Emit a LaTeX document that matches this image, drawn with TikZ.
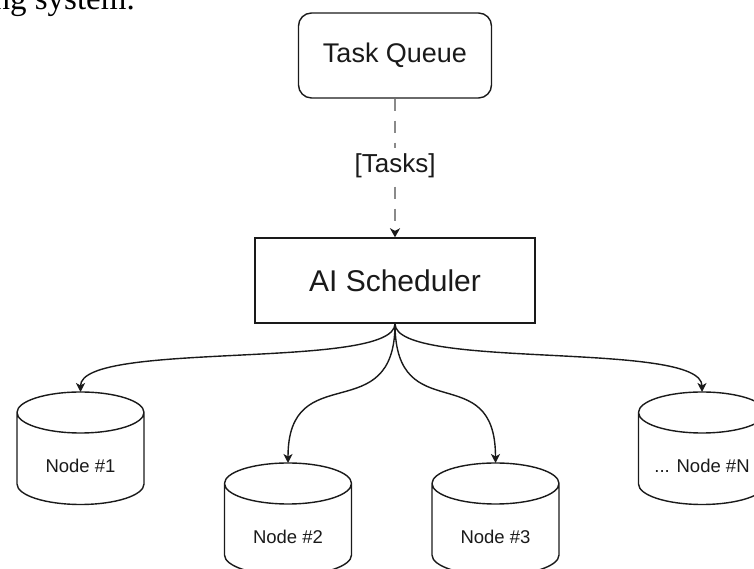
\documentclass[tikz,border=0pt]{standalone}
\usepackage{fontspec}
\setmainfont{Liberation Sans}
\newfontfamily\docserif{Liberation Serif}
\usetikzlibrary{arrows.meta}
\definecolor{dashgray}{HTML}{8A8A8A}
\definecolor{inkc}{HTML}{1A1A1A}
\tikzset{
  boxline/.style={draw=inkc, line width=1.4pt},
  tqbox/.style={boxline, rounded corners=13pt, minimum width=193pt, minimum height=85pt, font=\fontsize{27}{30}\selectfont, text=inkc},
  schedbox/.style={boxline, minimum width=280pt, minimum height=85pt, font=\fontsize{30}{33}\selectfont, text=inkc},
  flowdash/.style={draw=dashgray, line width=1.4pt, dash pattern=on 12pt off 10pt, -{Stealth[length=9pt,width=10pt,inset=2.5pt,color=inkc]}},
  tasklabel/.style={fill=white, font=\fontsize{26}{28}\selectfont, text=inkc, inner xsep=2pt, inner ysep=6pt},
  cylline/.style={draw=inkc, line width=1.4pt},
  dbtext/.style={font=\fontsize{18.5}{20}\selectfont, text=inkc, inner sep=0pt},
  feed/.style={draw=inkc, line width=1.4pt, -{Stealth[length=9pt,width=9pt,inset=2.5pt]}},
}
\newcommand\dbcyl[4]{%
  \draw[cylline] (#2-63.5,#3-20.5) -- (#2-63.5,#3-92)
     arc[start angle=180,end angle=360,x radius=63.5,y radius=20.5]
     -- (#2+63.5,#3-20.5)
     arc[start angle=0,end angle=180,x radius=63.5,y radius=20.5]
     arc[start angle=180,end angle=360,x radius=63.5,y radius=20.5];
  \node[dbtext] (#1) at (#2,#3-74) {#4};
  \coordinate (#1top) at (#2,#3);
}
\begin{document}
\begin{tikzpicture}[x=1pt,y=1pt]
\useasboundingbox (0,0) rectangle (754,569);
% cropped document text at top
\node[anchor=base east, inner sep=0pt, font=\docserif\fontsize{33}{36}\selectfont] (doctext) at (135,559.5) {ng system.};
% boxes
\node[tqbox] (tq) at (395,513.5) {Task Queue};
\node[schedbox] (sched) at (395,288.5) {AI Scheduler};
% dashed feed
\draw[flowdash] (tq.south) -- (sched.north) node[pos=0.486, tasklabel] (tasks) {[Tasks]};
% cylinders
\dbcyl{n1}{80.5}{177}{Node \#1}
\dbcyl{n2}{288}{106}{Node \#2}
\dbcyl{n3}{495.5}{106}{Node \#3}
\dbcyl{nN}{702}{177}{... Node \#N}
% connectors
\draw[feed] (sched.south) .. controls +(0,-47) and +(0,52) .. (n1top);
\draw[feed] (sched.south) .. controls +(0,-107) and +(0,107) .. (n2top);
\draw[feed] (sched.south) .. controls +(0,-107) and +(0,107) .. (n3top);
\draw[feed] (sched.south) .. controls +(0,-47) and +(0,52) .. (nNtop);
\end{tikzpicture}
\end{document}
